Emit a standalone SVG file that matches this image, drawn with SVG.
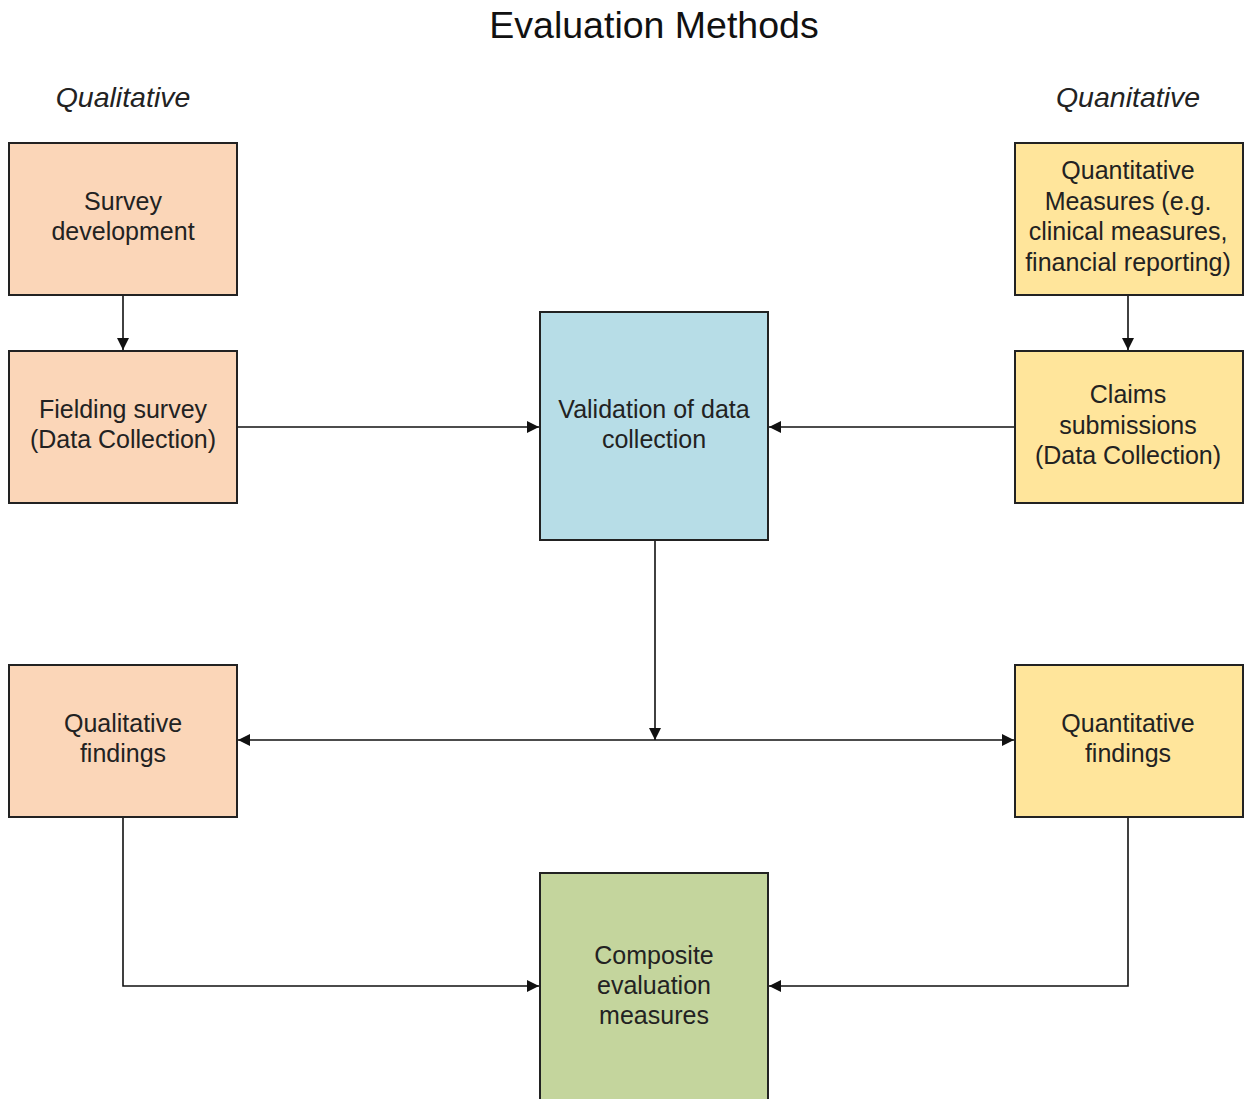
<svg xmlns="http://www.w3.org/2000/svg" width="1246" height="1099" viewBox="0 0 1246 1099">
<defs>
<style>
.box{stroke:#222;stroke-width:2}
.peach{fill:#FBD6B8}
.yellow{fill:#FFE59B}
.blue{fill:#B7DDE7}
.green{fill:#C4D59D}
.t{font-family:"Liberation Sans",Arial,sans-serif;font-size:25px;fill:#222;text-anchor:middle}
.h{font-family:"Liberation Sans",Arial,sans-serif;font-style:italic;font-size:28.5px;fill:#222;text-anchor:middle}
.title{font-family:"Liberation Sans",Arial,sans-serif;font-size:37.5px;fill:#111;text-anchor:middle}
.c{fill:none;stroke:#111;stroke-width:1.6}
</style>
<marker id="ah" viewBox="0 0 12 12" refX="12" refY="6" markerWidth="12" markerHeight="12" markerUnits="userSpaceOnUse" orient="auto-start-reverse">
<path d="M0,0 L12,6 L0,12 z" fill="#111"/>
</marker>
</defs>
<rect width="1246" height="1099" fill="#fff"/>
<text class="title" x="654" y="38">Evaluation Methods</text>
<text class="h" x="123" y="107">Qualitative</text>
<text class="h" x="1128" y="107">Quanitative</text>

<g id="connectors">
<path class="c" d="M123,295 V350" marker-end="url(#ah)"/>
<path class="c" d="M1128,295 V350" marker-end="url(#ah)"/>
<path class="c" d="M237,427 H539" marker-end="url(#ah)"/>
<path class="c" d="M1015,427 H769" marker-end="url(#ah)"/>
<path class="c" d="M655,540 V740" marker-end="url(#ah)"/>
<path class="c" d="M238,740 H1014" marker-start="url(#ah)" marker-end="url(#ah)"/>
<path class="c" d="M123,817 V986 H539" marker-end="url(#ah)"/>
<path class="c" d="M1128,817 V986 H769" marker-end="url(#ah)"/>
</g>

<g id="survey-development">
<rect class="box peach" x="9" y="143" width="228" height="152"/>
<text class="t" x="123" y="210">Survey</text>
<text class="t" x="123" y="240">development</text>
</g>
<g id="fielding-survey">
<rect class="box peach" x="9" y="351" width="228" height="152"/>
<text class="t" x="123" y="418">Fielding survey</text>
<text class="t" x="123" y="448">(Data Collection)</text>
</g>
<g id="qualitative-findings">
<rect class="box peach" x="9" y="665" width="228" height="152"/>
<text class="t" x="123" y="732">Qualitative</text>
<text class="t" x="123" y="762">findings</text>
</g>
<g id="quantitative-measures">
<rect class="box yellow" x="1015" y="143" width="228" height="152"/>
<text class="t" x="1128" y="179">Quantitative</text>
<text class="t" x="1128" y="210">Measures (e.g.</text>
<text class="t" x="1128" y="240">clinical measures,</text>
<text class="t" x="1128" y="271">financial reporting)</text>
</g>
<g id="claims-submissions">
<rect class="box yellow" x="1015" y="351" width="228" height="152"/>
<text class="t" x="1128" y="403">Claims</text>
<text class="t" x="1128" y="434">submissions</text>
<text class="t" x="1128" y="464">(Data Collection)</text>
</g>
<g id="quantitative-findings">
<rect class="box yellow" x="1015" y="665" width="228" height="152"/>
<text class="t" x="1128" y="732">Quantitative</text>
<text class="t" x="1128" y="762">findings</text>
</g>
<g id="validation">
<rect class="box blue" x="540" y="312" width="228" height="228"/>
<text class="t" x="654" y="418">Validation of data</text>
<text class="t" x="654" y="448">collection</text>
</g>
<g id="composite">
<rect class="box green" x="540" y="873" width="228" height="228"/>
<text class="t" x="654" y="964">Composite</text>
<text class="t" x="654" y="994">evaluation</text>
<text class="t" x="654" y="1024">measures</text>
</g>
</svg>
